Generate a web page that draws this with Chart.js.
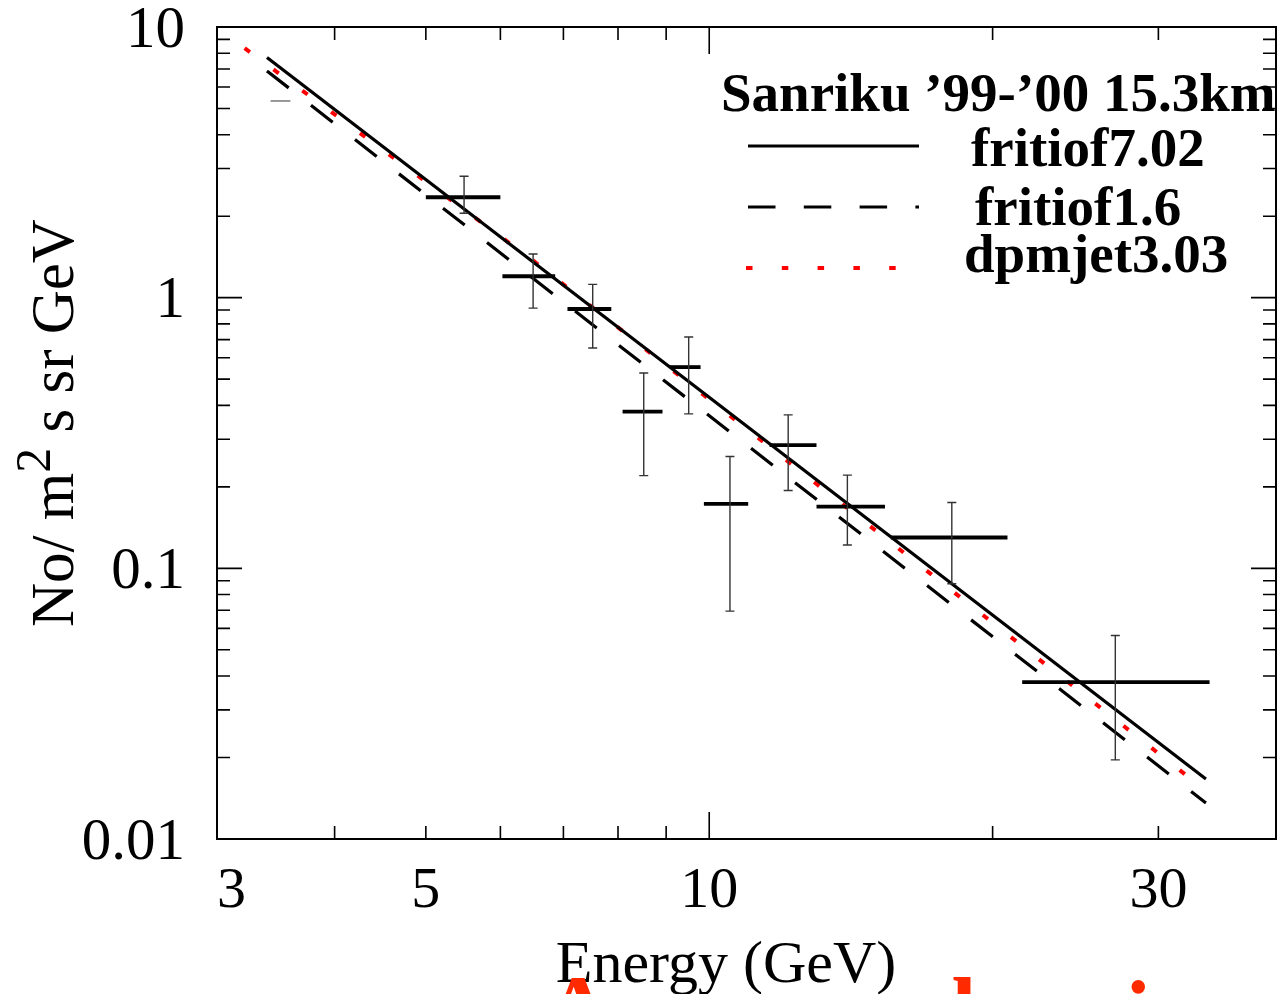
<!DOCTYPE html>
<html>
<head>
<meta charset="utf-8">
<script src="https://cdn.jsdelivr.net/npm/chart.js@4.4.1/dist/chart.umd.min.js"></script>
<style>
  html, body { margin: 0; padding: 0; background: #fff; }
  canvas { display: block; }
</style>
</head>
<body>
<canvas id="c" width="1284" height="994"></canvas>
<script>
// Sanriku '99-'00 15.3 km flux vs energy, log-log, with three model curves.

// -- data -------------------------------------------------------------------
const energy   = [3.51, 5.49, 6.50, 7.52, 8.52, 9.51, 10.52, 12.13, 14.02, 18.1, 27.0];
const energyLo = [3.42, 5.00, 6.03, 7.07, 8.09, 9.08, 9.87, 11.59, 13.0, 15.59, 21.5];
const energyHi = [3.59, 6.00, 6.86, 7.87, 8.92, 9.79, 11.0, 13.0, 15.37, 20.74, 34.0];
const flux     = [5.33, 2.35, 1.20, 0.908, 0.379, 0.554, 0.173, 0.285, 0.169, 0.130, 0.038];
const fluxLo   = [null, 2.05, 0.915, 0.652, 0.220, 0.372, 0.0695, 0.194, 0.122, 0.0877, 0.0196];
const fluxHi   = [null, 2.81, 1.45, 1.12, 0.527, 0.716, 0.259, 0.369, 0.221, 0.175, 0.0565];

const fritiof702E = [3.39, 33.7];
const fritiof702Y = [7.71, 0.01667];
const fritiof16E  = [3.39, 33.7];
const fritiof16Y  = [6.88, 0.01359];
const dpmjetE     = [3.21, 6.49, 33.3];
const dpmjetY     = [8.35, 1.377, 0.01557];

const xTickValues = [3, 5, 10, 30, 40];
const xTickLabels = ['3', '5', '10', '30', ''];
const yTickValues = [0.01, 0.1, 1, 10];
const yTickLabels = ['0.01', '0.1', '1', '10'];

const legendTitle = 'Sanriku \u201999-\u201900 15.3km';
const xTitle = 'Energy (GeV)';

const SERIF = "'Liberation Serif', 'Times New Roman', serif";
Chart.defaults.font.family = SERIF;
Chart.defaults.color = '#000';

const zip = (xs, ys) => xs.map((v, i) => ({ x: v, y: ys[i] }));

// -- error bars: horizontal energy bin + vertical flux error ---------------
const errorBarPlugin = {
  id: 'errorBars',
  afterDatasetsDraw(chart) {
    const { ctx, scales: { x, y } } = chart;
    const pts = chart.data.datasets[3].data;
    ctx.save();
    ctx.lineCap = 'butt';
    for (const p of pts) {
      const px = x.getPixelForValue(p.x);
      const py = y.getPixelForValue(p.y);
      const bx0 = x.getPixelForValue(p.xMin);
      const bx1 = x.getPixelForValue(p.xMax);
      if (p.yMin == null) {
        ctx.strokeStyle = '#777';
        ctx.lineWidth = 1.5;
        ctx.beginPath(); ctx.moveTo(bx0, py); ctx.lineTo(bx1, py); ctx.stroke();
        continue;
      }
      ctx.strokeStyle = '#000';
      ctx.lineWidth = 3.8;
      ctx.beginPath(); ctx.moveTo(bx0, py); ctx.lineTo(bx1, py); ctx.stroke();

      const yt = y.getPixelForValue(p.yMax);
      const yb = y.getPixelForValue(p.yMin);
      ctx.strokeStyle = '#333';
      ctx.lineWidth = 1.4;
      ctx.beginPath();
      ctx.moveTo(px, yt); ctx.lineTo(px, yb);
      ctx.moveTo(px - 4.5, yt); ctx.lineTo(px + 4.5, yt);
      ctx.moveTo(px - 4.5, yb); ctx.lineTo(px + 4.5, yb);
      ctx.stroke();
    }
    ctx.restore();
  },
};

// -- frame with inward ticks on all four sides ------------------------------
const framePlugin = {
  id: 'frame',
  afterDraw(chart) {
    const { ctx, chartArea: a, scales: { x, y } } = chart;
    const seg = (x0, y0, x1, y1) => { ctx.moveTo(x0, y0); ctx.lineTo(x1, y1); };
    ctx.save();
    ctx.strokeStyle = '#000';
    ctx.lineWidth = 1.6;
    ctx.beginPath();
    for (let d = 1; d <= 10; d *= 10) {
      for (let m = 1; m < 10; m += 1) {
        const v = m * d;
        if (v <= x.min || v >= x.max) continue;
        const px = x.getPixelForValue(v);
        const len = m === 1 ? 27 : 13;
        seg(px, a.bottom, px, a.bottom - len);
        seg(px, a.top, px, a.top + len);
      }
    }
    for (let d = 0.01; d <= 10.001; d *= 10) {
      for (let m = 1; m < 10; m += 1) {
        const v = m * d;
        if (v > y.max * 1.0001) continue;
        const py = y.getPixelForValue(v);
        const len = m === 1 ? 25 : 13;
        seg(a.left, py, a.left + len, py);
        seg(a.right, py, a.right - len, py);
      }
    }
    ctx.stroke();
    ctx.lineWidth = 2;
    ctx.strokeRect(a.left, a.top, a.right - a.left, a.bottom - a.top);
    ctx.restore();
  },
};

// -- legend block (top right, inside the frame) -----------------------------
const legendPlugin = {
  id: 'sanrikuLegend',
  afterDraw(chart) {
    const { ctx } = chart;
    const ds = chart.data.datasets;
    const rows = [
      { i: 0, lineY: 146, x0: 748, x1: 919, textX: 971, baseY: 166 },
      { i: 1, lineY: 207, x0: 748, x1: 919, textX: 975, baseY: 225 },
      { i: 2, lineY: 268, x0: 746, x1: 898, textX: 964, baseY: 272 },
    ];
    ctx.save();
    ctx.fillStyle = '#000';
    ctx.font = `bold 55px ${SERIF}`;
    ctx.textAlign = 'left';
    ctx.textBaseline = 'alphabetic';
    ctx.fillText(legendTitle, 721, 111);
    for (const r of rows) {
      const d = ds[r.i];
      ctx.strokeStyle = d.borderColor;
      ctx.lineWidth = d.borderWidth;
      ctx.setLineDash(d.borderDash || []);
      ctx.beginPath(); ctx.moveTo(r.x0, r.lineY); ctx.lineTo(r.x1, r.lineY); ctx.stroke();
      ctx.setLineDash([]);
      ctx.fillText(d.label, r.textX, r.baseY);
    }
    ctx.restore();
  },
};

// -- axis titles (y title has a raised "2") + clipped red caption ----------
const titlesPlugin = {
  id: 'titles',
  afterDraw(chart) {
    const { ctx } = chart;
    ctx.save();
    ctx.fillStyle = '#000';
    ctx.textBaseline = 'alphabetic';

    ctx.font = `60px ${SERIF}`;
    ctx.textAlign = 'center';
    ctx.fillText(xTitle, 726, 982);

    ctx.textAlign = 'left';
    ctx.translate(73, 627);
    ctx.rotate(-Math.PI / 2);
    ctx.font = `61px ${SERIF}`;
    ctx.fillText('No/ m', 0, 0);
    let w = ctx.measureText('No/ m').width;
    ctx.font = `50px ${SERIF}`;
    ctx.fillText('2', w, -23);
    w += ctx.measureText('2').width;
    ctx.font = `61px ${SERIF}`;
    ctx.fillText(' s sr GeV', w, 0);
    ctx.restore();

    // tops of a red caption that sits below the figure
    ctx.save();
    ctx.fillStyle = '#ff2a00';
    ctx.font = `bold 90px ${SERIF}`;
    ctx.textAlign = 'center';
    ctx.fillText('A', 578, 1038);
    ctx.fillText('l', 964, 1040);
    ctx.fillText('i', 1138, 1043);
    ctx.restore();
  },
};

const ctx = document.getElementById('c').getContext('2d');

new Chart(ctx, {
  type: 'scatter',
  data: {
    datasets: [
      {
        label: 'fritiof7.02',
        data: zip(fritiof702E, fritiof702Y),
        showLine: true, borderColor: '#000', borderWidth: 3.2, borderDash: [],
        pointRadius: 0, fill: false,
      },
      {
        label: 'fritiof1.6',
        data: zip(fritiof16E, fritiof16Y),
        showLine: true, borderColor: '#000', borderWidth: 3.2, borderDash: [27.5, 28.3],
        pointRadius: 0, fill: false,
      },
      {
        label: 'dpmjet3.03',
        data: zip(dpmjetE, dpmjetY),
        showLine: true, borderColor: '#ff0000', borderWidth: 4, borderDash: [6.5, 29.3],
        pointRadius: 0, fill: false,
      },
      {
        label: 'Sanriku',
        data: energy.map((e, i) => ({
          x: e, y: flux[i],
          xMin: energyLo[i], xMax: energyHi[i],
          yMin: fluxLo[i], yMax: fluxHi[i],
        })),
        showLine: false, pointRadius: 0,
      },
    ],
  },
  options: {
    responsive: false,
    animation: false,
    devicePixelRatio: 1,
    layout: { padding: { top: 27, right: 8, left: 0, bottom: 0 } },
    plugins: {
      legend: { display: false },
      tooltip: { enabled: false },
    },
    scales: {
      x: {
        type: 'logarithmic',
        min: 3,
        max: 40,
        grid: { display: false, drawTicks: false },
        border: { display: false },
        afterBuildTicks: (s) => { s.ticks = xTickValues.map((v) => ({ value: v })); },
        afterFit: (s) => {
          s.height = 994 - 839;
          s.paddingLeft = 0;
          s.paddingRight = 0;
        },
        ticks: {
          autoSkip: false,
          maxRotation: 0,
          align: 'inner',
          padding: 18,
          color: '#000',
          font: { size: 58, family: SERIF },
          callback: (v, i) => xTickLabels[i],
        },
      },
      y: {
        type: 'logarithmic',
        min: 0.01,
        max: 10,
        grid: { display: false, drawTicks: false },
        border: { display: false },
        afterBuildTicks: (s) => { s.ticks = yTickValues.map((v) => ({ value: v })); },
        afterFit: (s) => {
          s.width = 217;
          s.paddingTop = 0;
          s.paddingBottom = 0;
        },
        ticks: {
          autoSkip: false,
          padding: 32,
          labelOffset: 4,
          color: '#000',
          font: { size: 59, family: SERIF },
          callback: (v, i) => yTickLabels[i],
        },
      },
    },
  },
  plugins: [errorBarPlugin, framePlugin, legendPlugin, titlesPlugin],
});
</script>
</body>
</html>
